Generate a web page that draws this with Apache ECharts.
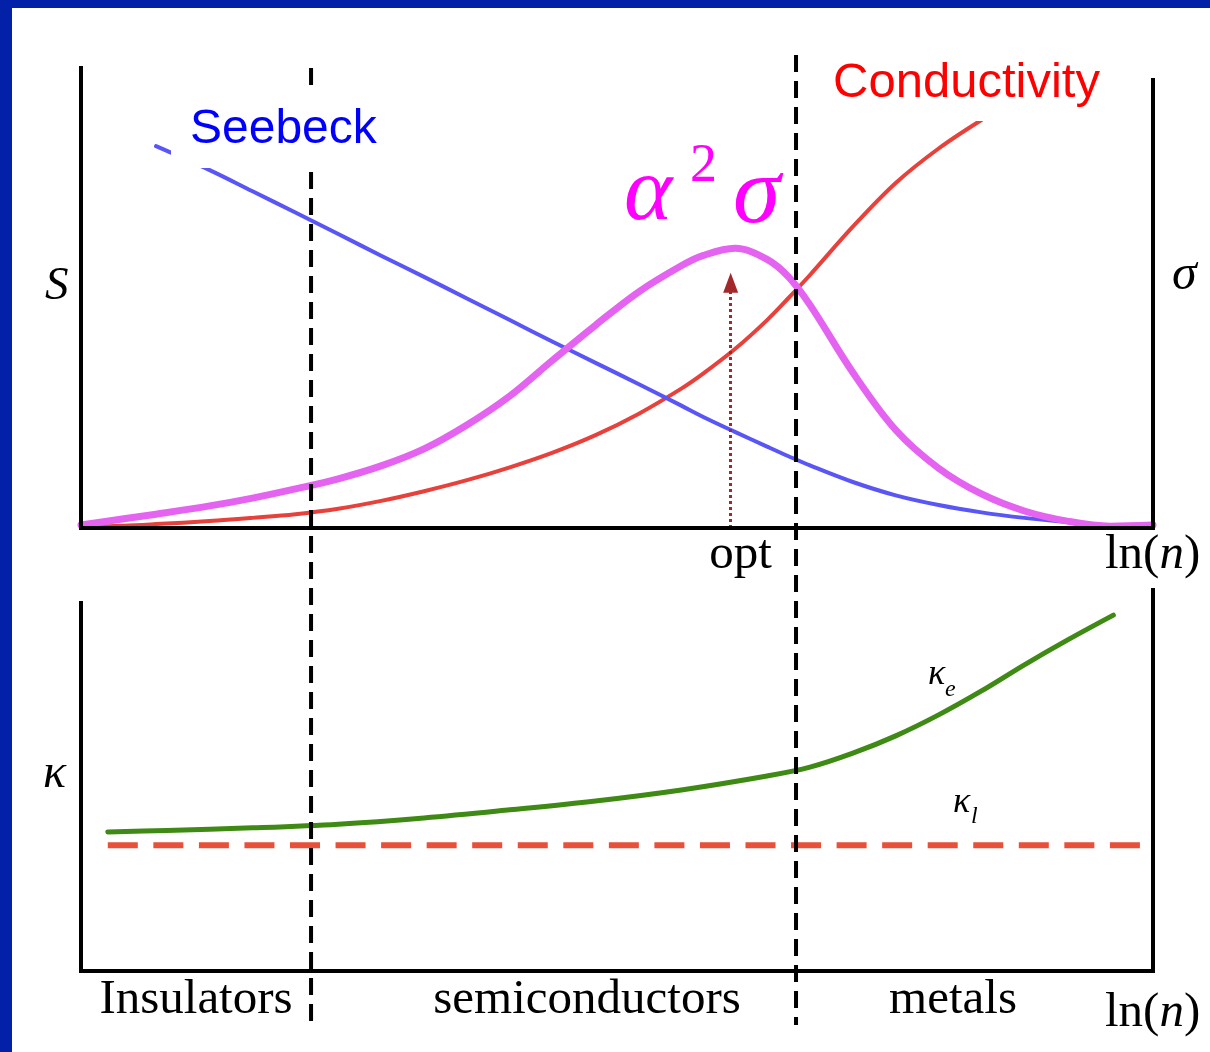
<!DOCTYPE html>
<html>
<head>
<meta charset="utf-8">
<title>Thermoelectric properties vs carrier concentration</title>
<script src="https://cdn.jsdelivr.net/npm/echarts@6/dist/echarts.min.js"></script>
<style>
  html, body { margin: 0; padding: 0; background: #ffffff; }
  #wrap { position: relative; width: 1210px; height: 1052px; overflow: hidden; }
  #chart { position: absolute; left: 0; top: 0; width: 1210px; height: 1052px; }
  .bar { position: absolute; background: #0321a8; z-index: 5; }
</style>
</head>
<body>
<div id="wrap">
  <div id="chart"></div>
  <div class="bar" style="left:0;top:0;width:1210px;height:8px;"></div>
  <div class="bar" style="left:0;top:0;width:12px;height:1052px;"></div>
</div>
<script>
// ln(n) sample positions (relative scale, 0 = low carrier concentration)
const lnN = [0, 4, 7, 12, 16, 20, 24, 28, 32, 36, 40, 44, 48, 52, 56, 58, 61, 64, 66, 68, 72, 76, 80, 84, 88, 92, 96, 100];
// Seebeck coefficient S (arbitrary units)
const seebeck = [null, null, 83.0, 77.8, 73.2, 68.6, 63.9, 59.2, 54.6, 49.9, 45.2, 40.5, 35.9, 31.3, 26.6, 24.2, 20.9, 17.7, 15.6, 13.6, 10.0, 7.1, 5.0, 3.4, 2.2, 1.3, 0.5, 0.0];
// Electrical conductivity sigma (arbitrary units)
const conductivity = [0.2, 0.5, 0.85, 1.5, 2.2, 3.0, 4.2, 5.9, 8.0, 10.4, 13.2, 16.4, 20.2, 24.8, 30.3, 33.5, 38.9, 45.2, 50.0, 55.0, 65.5, 75.0, 82.5, 88.7, null, null, null, null];
// Power factor alpha^2 sigma (arbitrary units)
const powerFactor = [0.65, 2.0, 3.0, 4.8, 6.5, 8.5, 10.7, 13.5, 17.2, 22.4, 28.7, 36.5, 44.1, 51.3, 57.0, 59.2, 60.8, 58.4, 54.6, 48.5, 33.8, 21.3, 13.0, 7.4, 3.7, 1.5, 0.4, 0.65];

// Thermal conductivity panel
const kappaX = [2.5, 8, 16, 24, 32, 40, 48, 56, 64, 68, 72, 76, 80, 84, 88, 92, 96.3];
const kappaE = [37.8, 38.2, 38.9, 39.9, 41.6, 43.8, 46.2, 49.2, 53.0, 55.4, 59.2, 63.9, 69.6, 76.1, 83.2, 89.9, 96.7];
const kappaLRange = [2.5, 98.8];
const kappaL = 34.2;

// Optimum carrier concentration and regime boundaries (ln(n) scale)
const optX = 60.6;
const optArrowTop = 53.3;
const regionBounds = [21.46, 66.7];
const regionNames = ['Insulators', 'semiconductors', 'metals'];

const pairs = (xs, ys) => xs.map((x, i) => [x, ys[i]]).filter(p => p[1] !== null);

const chart = echarts.init(document.getElementById('chart'), null, { renderer: 'canvas' });

const hiddenAxis = (gridIndex) => ({
  type: 'value', gridIndex, min: 0, max: 100,
  axisLine: { show: false }, axisTick: { show: false },
  axisLabel: { show: false }, splitLine: { show: false }
});

const curve = (name, data, color, width, grid, extra) => Object.assign({
  name, type: 'line', data, xAxisIndex: grid, yAxisIndex: grid,
  smooth: 0.35, showSymbol: false, symbol: 'none', clip: false, silent: true,
  lineStyle: { color, width, cap: 'round', join: 'round' },
  z: 3
}, extra || {});

chart.setOption({
  animation: false,
  backgroundColor: '#ffffff',
  grid: [
    { left: 81, right: 57, top: 68, bottom: 524 },
    { left: 81, right: 57, top: 603, bottom: 81 }
  ],
  xAxis: [hiddenAxis(0), hiddenAxis(1)],
  yAxis: [hiddenAxis(0), hiddenAxis(1)],
  series: [
    curve('Conductivity', pairs(lnN, conductivity), '#e8403a', 4, 0),
    curve('Seebeck', pairs(lnN, seebeck), '#5a55f5', 4, 0),
    curve('alpha2sigma', pairs(lnN, powerFactor), '#e463f0', 7, 0, {
      markLine: {
        silent: true,
        animation: false,
        symbol: ['none', 'triangle'],
        symbolSize: [15, 20],
        label: { show: false },
        lineStyle: { color: '#a3282a', width: 3, type: [3, 3] },
        emphasis: { disabled: true },
        data: [[{ coord: [optX, 0] }, { coord: [optX, optArrowTop] }]]
      }
    }),
    curve('kappa_l', [[kappaLRange[0], kappaL], [kappaLRange[1], kappaL]], '#e8503a', 6, 1, {
      smooth: false,
      lineStyle: { color: '#e8503a', width: 6, type: [30, 15.55], cap: 'butt' }
    }),
    curve('kappa_e', pairs(kappaX, kappaE), '#3f8a14', 5, 1)
  ]
});

// Frames, regime boundaries and labels are placed from the same data scales
const px = (grid, pt) => chart.convertToPixel({ gridIndex: grid }, pt);

const frameTop = [[0, 100], [0, 0], [100, 0], [100, 97.4]].map(p => px(0, p));
const frameBot = [[0, 100], [0, 0], [100, 0], [100, 103.5]].map(p => px(1, p));

const graphics = [];
[frameTop, frameBot].forEach(points => graphics.push({
  type: 'polyline', z: 60, silent: true,
  shape: { points },
  style: { stroke: '#000', lineWidth: 4, fill: null, lineJoin: 'miter', lineCap: 'square' }
}));

const boundaryTops = [100, 102.8];
regionBounds.forEach((b, i) => {
  const top = px(0, [b, boundaryTops[i]]);
  const bot = px(1, [b, -14.7]);
  graphics.push({
    type: 'line', z: 50, silent: true,
    shape: { x1: top[0], y1: top[1], x2: bot[0], y2: bot[1] },
    style: { stroke: '#000', lineWidth: 4, lineDash: [17, 9], lineCap: 'butt' }
  });
});

// White boxes behind the curve names
graphics.push({ type: 'rect', z: 90, silent: true, shape: { x: 171, y: 88, width: 215, height: 80 }, style: { fill: '#fff' } });
graphics.push({ type: 'rect', z: 90, silent: true, shape: { x: 822, y: 46, width: 290, height: 75 }, style: { fill: '#fff' } });

const txt = (text, x, y, font, color, align) => ({
  type: 'text', z: 100, silent: true, x, y,
  style: { text, font, fill: color, align: align || 'left', verticalAlign: 'middle' }
});

const SANS = '"Liberation Sans", Arial, sans-serif';
const SERIF = '"Liberation Serif", "Times New Roman", serif';

graphics.push(txt('Seebeck', 190, 130, '48px ' + SANS, '#0000ff'));
graphics.push(txt('Conductivity', 833, 83, '49px ' + SANS, '#ff0000'));

graphics.push(txt('α', 624, 195, 'italic 92px ' + SERIF, '#ff00ff'));
graphics.push(txt('2', 690, 167, '54px ' + SERIF, '#ff00ff'));
graphics.push(txt('σ', 733, 197, 'italic 96px ' + SERIF, '#ff00ff'));

graphics.push(txt('S', 45, 287, 'italic 47px ' + SERIF, '#000'));
graphics.push(txt('σ', 1172, 276, 'italic 50px ' + SERIF, '#000'));
graphics.push(txt('κ', 43, 774, 'italic 48px ' + SERIF, '#000'));

graphics.push(txt('κ', 928, 675, 'italic 36px ' + SERIF, '#000'));
graphics.push(txt('e', 945, 690, 'italic 24px ' + SERIF, '#000'));
graphics.push(txt('κ', 953, 803, 'italic 36px ' + SERIF, '#000'));
graphics.push(txt('l', 971, 817, 'italic 24px ' + SERIF, '#000'));

const optPx = px(0, [optX, 0]);
graphics.push(txt('opt', optPx[0] + 10, 555, '49px ' + SERIF, '#000', 'center'));

const lnLabel = (y) => ({
  type: 'text', z: 100, silent: true, x: 1105, y,
  style: {
    text: '{r|ln(}{i|n}{r|)}',
    verticalAlign: 'middle', align: 'left',
    rich: {
      r: { font: '49px ' + SERIF, fill: '#000' },
      i: { font: 'italic 49px ' + SERIF, fill: '#000' }
    }
  }
});
graphics.push(lnLabel(555));
graphics.push(lnLabel(1013));

const regionCenters = [196, 587, 953];
regionNames.forEach((n, i) => graphics.push(txt(n, regionCenters[i], 1000, '49px ' + SERIF, '#000', 'center')));

chart.setOption({ graphic: graphics });
</script>
</body>
</html>
